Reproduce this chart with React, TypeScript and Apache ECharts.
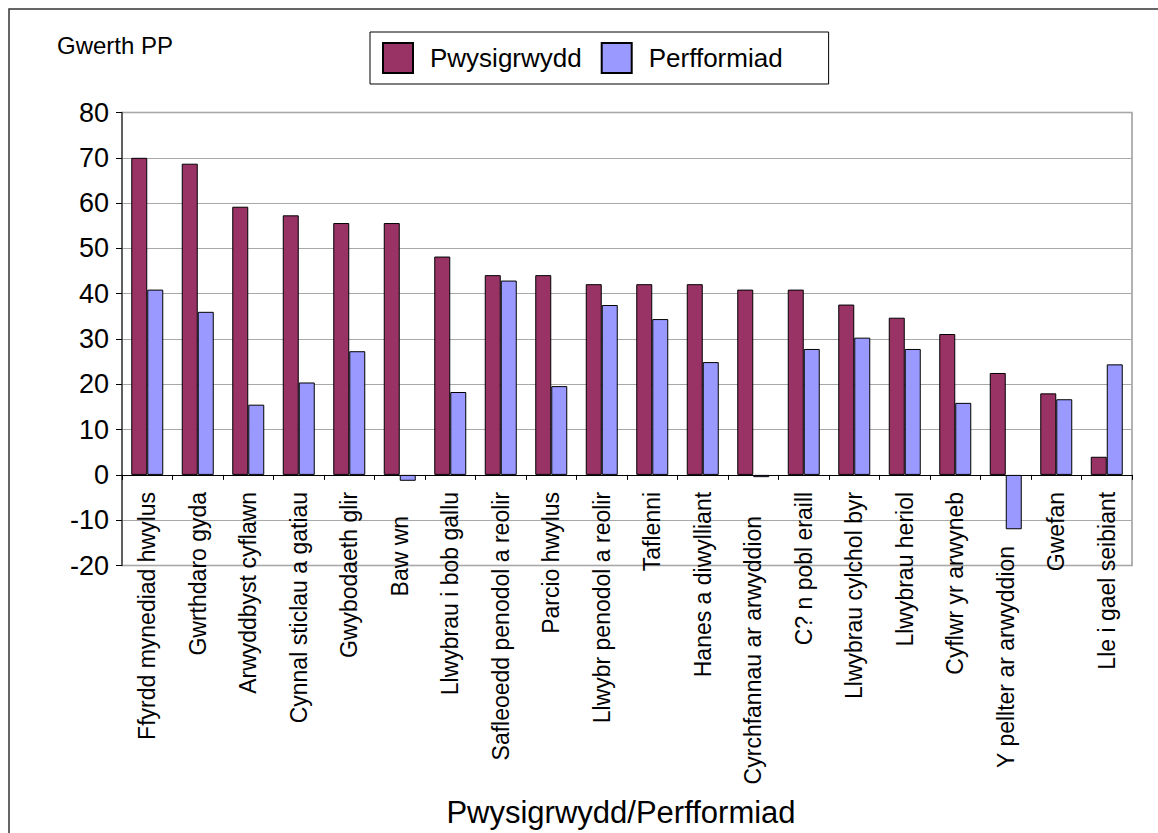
import React, { useEffect, useRef } from "react";
import * as echarts from "echarts";

const categories: string[] = [
  "Ffyrdd mynediad hwylus",
  "Gwrthdaro gyda",
  "Arwyddbyst cyflawn",
  "Cynnal sticlau a gatiau",
  "Gwybodaeth glir",
  "Baw wn",
  "Llwybrau i bob gallu",
  "Safleoedd penodol a reolir",
  "Parcio hwylus",
  "Llwybr penodol a reolir",
  "Taflenni",
  "Hanes a diwylliant",
  "Cyrchfannau ar arwyddion",
  "C? n pobl eraill",
  "Llwybrau cylchol byr",
  "Llwybrau heriol",
  "Cyflwr yr arwyneb",
  "Y pellter ar arwyddion",
  "Gwefan",
  "Lle i gael seibiant",
];

const pwysigrwydd: number[] = [
  70.0, 68.7, 59.2, 57.3, 55.6, 55.6, 48.2, 44.1, 44.1, 42.1,
  42.1, 42.1, 40.9, 40.9, 37.6, 34.7, 31.1, 22.5, 18.0, 4.0,
];

const perfformiad: number[] = [
  40.9, 36.0, 15.5, 20.4, 27.3, -1.3, 18.3, 42.9, 19.6, 37.5,
  34.4, 24.9, -0.5, 27.8, 30.3, 27.8, 15.9, -12.0, 16.7, 24.4,
];

const seriesNames: string[] = ["Pwysigrwydd", "Perfformiad"];
const yTitle = "Gwerth PP";
const xTitle = "Pwysigrwydd/Perfformiad";

// extra downward shift (px) of some category labels, as in the reference
const labelShift: Record<number, number> = { 5: 24, 12: 24, 17: 54 };

const FONT = "'Liberation Sans', Arial, sans-serif";

const GRID_TOP = 112.5;
const GRID_H = 453;
const Y_MIN = -20;
const Y_MAX = 80;
// distance from the grid bottom up to the value-0 line
const ZERO_OFFSET = (GRID_H * (0 - Y_MIN)) / (Y_MAX - Y_MIN);

export default function App() {
  const ref = useRef<HTMLDivElement>(null);

  useEffect(() => {
    if (!ref.current) return;
    const chart = echarts.init(ref.current, null, { renderer: "svg" });

    const xData = categories.map((c, i) =>
      labelShift[i]
        ? { value: c, textStyle: { padding: [0, labelShift[i], 0, 0] } }
        : c
    );

    chart.setOption({
      animation: false,
      backgroundColor: "#ffffff",
      textStyle: { fontFamily: FONT },
      legend: {
        left: 370,
        top: 32,
        orient: "horizontal",
        itemWidth: 30,
        itemHeight: 30,
        itemGap: 19,
        padding: [10, 46, 10, 12],
        borderColor: "#000",
        borderWidth: 1,
        icon: "rect",
        data: seriesNames,
        textStyle: {
          fontSize: 26,
          color: "#000",
          fontFamily: FONT,
          padding: [0, 0, 4, 12],
        },
      },
      grid: {
        left: 122,
        right: 26,
        top: GRID_TOP,
        height: GRID_H,
        show: true,
        borderColor: "#999",
        borderWidth: 1.5,
        backgroundColor: "transparent",
        containLabel: false,
        outerBoundsMode: "none",
      },
      xAxis: {
        type: "category",
        data: xData,
        boundaryGap: true,
        offset: -ZERO_OFFSET,
        axisLine: { onZero: false, lineStyle: { color: "#000", width: 1 } },
        axisTick: {
          show: true,
          interval: 0,
          length: 5,
          inside: false,
          lineStyle: { color: "#000", width: 1 },
        },
        axisLabel: {
          interval: 0,
          rotate: 90,
          margin: 17,
          fontSize: 23,
          color: "#000",
          fontFamily: FONT,
        },
        splitLine: { show: false },
      },
      yAxis: {
        type: "value",
        min: Y_MIN,
        max: Y_MAX,
        interval: 10,
        axisLine: { show: true, lineStyle: { color: "#444", width: 1.5 } },
        axisTick: {
          show: true,
          length: 6,
          inside: false,
          lineStyle: { color: "#000", width: 1 },
        },
        axisLabel: {
          fontSize: 27,
          color: "#000",
          margin: 13,
          fontFamily: FONT,
        },
        splitLine: { show: true, lineStyle: { color: "#a8a8a8", width: 1 } },
      },
      series: [
        {
          name: seriesNames[0],
          type: "bar",
          data: pwysigrwydd,
          barWidth: 16,
          barGap: "0%",
          itemStyle: { color: "#993366", borderColor: "#000", borderWidth: 1 },
        },
        {
          name: seriesNames[1],
          type: "bar",
          data: perfformiad,
          barWidth: 16,
          barGap: "0%",
          itemStyle: { color: "#9999ff", borderColor: "#000", borderWidth: 1 },
        },
      ],
      graphic: [
        {
          type: "polyline",
          shape: { points: [[9, 900], [9, 9], [1200, 9]] },
          style: { stroke: "#333", lineWidth: 1.5, fill: "none" },
          silent: true,
        },
        {
          type: "text",
          x: 57,
          y: 45,
          style: {
            text: yTitle,
            fontSize: 24,
            fontFamily: FONT,
            fill: "#000",
            textAlign: "left",
            textVerticalAlign: "middle",
          },
        },
        {
          type: "text",
          x: 621,
          y: 812,
          style: {
            text: xTitle,
            fontSize: 31,
            fontFamily: FONT,
            fill: "#000",
            textAlign: "center",
            textVerticalAlign: "middle",
          },
        },
      ],
    });

    return () => chart.dispose();
  }, []);

  return (
    <div
      ref={ref}
      style={{ position: "fixed", left: 0, top: 0, width: 1158, height: 833 }}
    />
  );
}
